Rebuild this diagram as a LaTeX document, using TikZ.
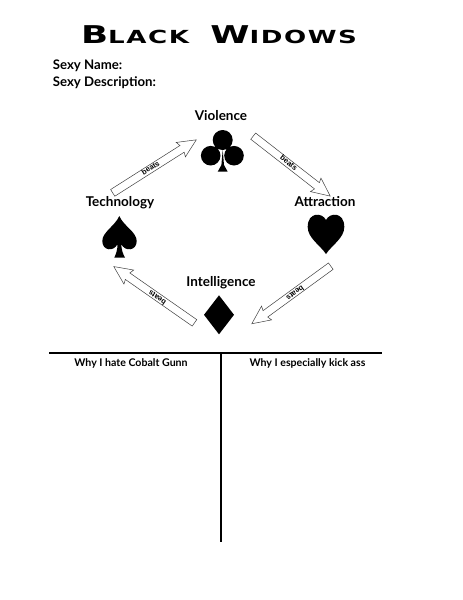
\documentclass[tikz,border=0pt]{standalone}
\usepackage{fontspec}
\setmainfont{Lato}
\newfontfamily\titlefont[LetterSpace=6]{DejaVu Sans}
\newfontfamily\beatsfont{Liberation Sans}
\usetikzlibrary{shapes.arrows}
\tikzset{
  beatsarrow/.style={draw=black!75,line width=.5pt,fill=white,single arrow,anchor=tail,minimum width=16.7pt,
    single arrow head extend=4.6pt,single arrow tip angle=50,single arrow head indent=1.5pt,inner sep=0pt,
    text height=5.5pt,text depth=1.9pt,font=\beatsfont\bfseries\fontsize{7.5}{8}\selectfont},
  suitname/.style={font=\fontsize{13.5}{15}\selectfont\bfseries,inner sep=0pt,anchor=base},
  sexyline/.style={font=\fontsize{13.2}{15}\selectfont\bfseries,inner sep=0pt,anchor=base west},
  whyhead/.style={font=\fontsize{10.6}{12}\selectfont\bfseries,inner sep=0pt,anchor=base},
  board/.style={line width=2pt}
}
\begin{document}
\begin{tikzpicture}[x=1pt,y=-1pt]
\useasboundingbox(0,0)rectangle(463,600);
% heading
\node[inner sep=0pt,anchor=base](title)at(219,43.3){\scalebox{1.45}[1]{\titlefont\bfseries\fontsize{24.5}{25}\selectfont B\fontsize{18}{25}\selectfont LACK\ \ \fontsize{24.5}{25}\selectfont W\fontsize{18}{25}\selectfont IDOWS}};
\node[sexyline](sexyname)at(52.7,69){Sexy Name:};
\node[sexyline](sexydesc)at(52.7,86){Sexy Description:};
% suit names
\foreach \n/\x/\y/\t in {violence/221/120.7/Violence,technology/120/206.7/Technology,attraction/325/206.7/Attraction,intelligence/221/286.7/Intelligence}{\node[suitname](\n)at(\x,\y){\t};}
% suits
\fill(222.7,140)circle(10)(210.7,155.7)circle(9.8)(234,155.7)circle(9.8);
\fill(222.7,150)--(224,165)--(227.7,171.7)--(217.7,171.7)--(221.4,165)--cycle;
\fill(119.3,216)..controls(115,226)and(102.3,232)..(102.3,241)..controls(102.3,251)and(114,252)..(117.5,244)..controls(117.5,250)and(116,254)..(114.3,257.7)--(125,257.7)..controls(123,254)and(121.5,250)..(121.2,244)..controls(125,252)and(136.7,251)..(136.7,241)..controls(136.7,232)and(123.5,226)..(119.3,216)--cycle;
\fill(326,220)..controls(322,212)and(307.7,212)..(307.7,227)..controls(307.7,238)and(320,245)..(326,254)..controls(332,245)and(344.3,238)..(344.3,227)..controls(344.3,212)and(330,212)..(326,220)--cycle;
\fill(219,295.3)--(234,314.8)--(219,334.3)--(204,314.8)--cycle;
% who beats who
\foreach \n/\x/\y/\a/\l in {beatsv/112.5/193/32.4/99,beatsa/253/136/-37.9/97.6,beatsi/331/266/216.1/97.8,beatst/194.7/323/145.1/98.4}{\node[beatsarrow,rotate=\a,minimum height=\l pt](\n)at(\x,\y){beats};}
% table
\coordinate(ruleleft)at(49,353);\coordinate(ruleright)at(382,353);\coordinate(ruletop)at(221,353);\coordinate(rulebottom)at(221,542);
\draw[board](ruleleft)--(ruleright);\draw[board](ruletop)--(rulebottom);
\node[whyhead](whyhate)at(131,366.7){Why I hate Cobalt Gunn};
\node[whyhead](whykick)at(307.5,366.7){Why I especially kick ass};
\end{tikzpicture}
\end{document}
